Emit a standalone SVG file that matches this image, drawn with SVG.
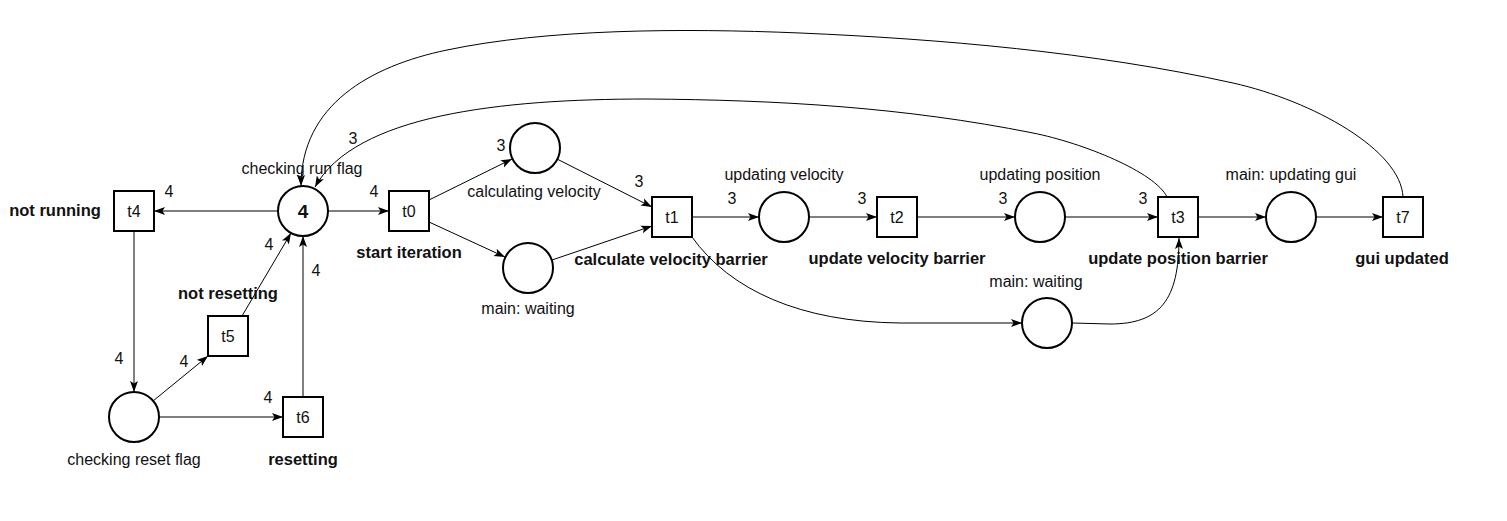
<svg xmlns="http://www.w3.org/2000/svg" width="1507" height="521" viewBox="0 0 1507 521">
<style>
.pl{fill:#fff;stroke:#000;stroke-width:2}
.tr{fill:#fff;stroke:#000;stroke-width:2}
.arc{fill:none;stroke:#000;stroke-width:1;marker-end:url(#ah)}
text{font-family:"Liberation Sans",Arial,sans-serif;font-size:16px;fill:#111}
.b{font-weight:bold;font-size:16.5px}
.c{text-anchor:middle}
.tok{font-weight:bold;font-size:19px;text-anchor:middle}
</style>
<defs>
<marker id="ah" markerWidth="12" markerHeight="10" refX="11" refY="5" orient="auto" markerUnits="userSpaceOnUse">
<path d="M0,1 L11,5 L0,9 L2.5,5 z" fill="#000"/>
</marker>
</defs>
<rect width="1507" height="521" fill="#fff"/>

<g id="connectors">
<path class="arc" d="M278,211 L154,211"/>
<path class="arc" d="M328,211 L389,211"/>
<path class="arc" d="M134,231 L134,392"/>
<path class="arc" d="M153,401 L208,356"/>
<path class="arc" d="M159,417 L283,417"/>
<path class="arc" d="M242,316 L291,233"/>
<path class="arc" d="M303,397 L303,236"/>
<path class="arc" d="M429,200 L512,159"/>
<path class="arc" d="M429,222 L505,257"/>
<path class="arc" d="M557,159 L652,207"/>
<path class="arc" d="M552,260 L652,226"/>
<path class="arc" d="M692,217 L759,217"/>
<path class="arc" d="M809,217 L877,217"/>
<path class="arc" d="M917,217 L1015,217"/>
<path class="arc" d="M1065,217 L1158,217"/>
<path class="arc" d="M1198,217 L1266,217"/>
<path class="arc" d="M1316,217 L1383,217"/>
<path class="arc" d="M692,237 C730,290 800,322 900,323 L1022,323"/>
<path class="arc" d="M1072,323 L1110,324 C1160,324 1179,300 1179,238"/>
<path class="arc" d="M1403,197 C1401,150 1313,101 1233,83 C1093,52 940,39 800,33 C680,28 547,29 447,50 C370,66 301,105 301,186"/>
<path class="arc" d="M1167,197 C1155,172 1083,143 1033,133 C903,107 777,100 647,99 C500,99 355,115 315,187"/>
<text x="169" y="197" class="c">4</text>
<text x="374" y="197" class="c">4</text>
<text x="269" y="250" class="c">4</text>
<text x="316" y="276" class="c">4</text>
<text x="119" y="364" class="c">4</text>
<text x="184" y="367" class="c">4</text>
<text x="268" y="403" class="c">4</text>
<text x="353" y="144" class="c">3</text>
<text x="501" y="151" class="c">3</text>
<text x="639" y="187" class="c">3</text>
<text x="732" y="204" class="c">3</text>
<text x="862" y="204" class="c">3</text>
<text x="1003" y="204" class="c">3</text>
<text x="1143" y="204" class="c">3</text>
</g>

<g id="p_run"><circle class="pl" cx="303" cy="211" r="25"/><text x="303" y="218" class="tok">4</text><text x="302" y="174" class="c">checking run flag</text></g>
<g id="p_reset"><circle class="pl" cx="134" cy="417" r="25"/><text x="134" y="465" class="c">checking reset flag</text></g>
<g id="p_calcvel"><circle class="pl" cx="535" cy="148" r="25"/><text x="534" y="197" class="c">calculating velocity</text></g>
<g id="p_wait1"><circle class="pl" cx="528" cy="268" r="25"/><text x="528" y="314" class="c">main: waiting</text></g>
<g id="p_updvel"><circle class="pl" cx="784" cy="217" r="25"/><text x="784" y="180" class="c">updating velocity</text></g>
<g id="p_updpos"><circle class="pl" cx="1040" cy="217" r="25"/><text x="1040" y="180" class="c">updating position</text></g>
<g id="p_wait2"><circle class="pl" cx="1047" cy="323" r="25"/><text x="1036" y="287" class="c">main: waiting</text></g>
<g id="p_gui"><circle class="pl" cx="1291" cy="217" r="25"/><text x="1291" y="180" class="c">main: updating gui</text></g>

<g id="t4"><rect class="tr" x="114" y="191" width="40" height="40"/><text x="134" y="217" class="c">t4</text><text x="55" y="216" class="c b">not running</text></g>
<g id="t0"><rect class="tr" x="389" y="191" width="40" height="40"/><text x="409" y="217" class="c">t0</text><text x="409" y="258" class="c b">start iteration</text></g>
<g id="t5"><rect class="tr" x="208" y="316" width="40" height="40"/><text x="228" y="342" class="c">t5</text><text x="228" y="299" class="c b">not resetting</text></g>
<g id="t6"><rect class="tr" x="283" y="397" width="40" height="40"/><text x="303" y="423" class="c">t6</text><text x="303" y="465" class="c b">resetting</text></g>
<g id="t1"><rect class="tr" x="652" y="197" width="40" height="40"/><text x="672" y="223" class="c">t1</text><text x="671" y="265" class="c b">calculate velocity barrier</text></g>
<g id="t2"><rect class="tr" x="877" y="197" width="40" height="40"/><text x="897" y="223" class="c">t2</text><text x="897" y="264" class="c b">update velocity barrier</text></g>
<g id="t3"><rect class="tr" x="1158" y="197" width="40" height="40"/><text x="1178" y="223" class="c">t3</text><text x="1178" y="264" class="c b">update position barrier</text></g>
<g id="t7"><rect class="tr" x="1383" y="197" width="40" height="40"/><text x="1403" y="223" class="c">t7</text><text x="1402" y="264" class="c b">gui updated</text></g>
</svg>
